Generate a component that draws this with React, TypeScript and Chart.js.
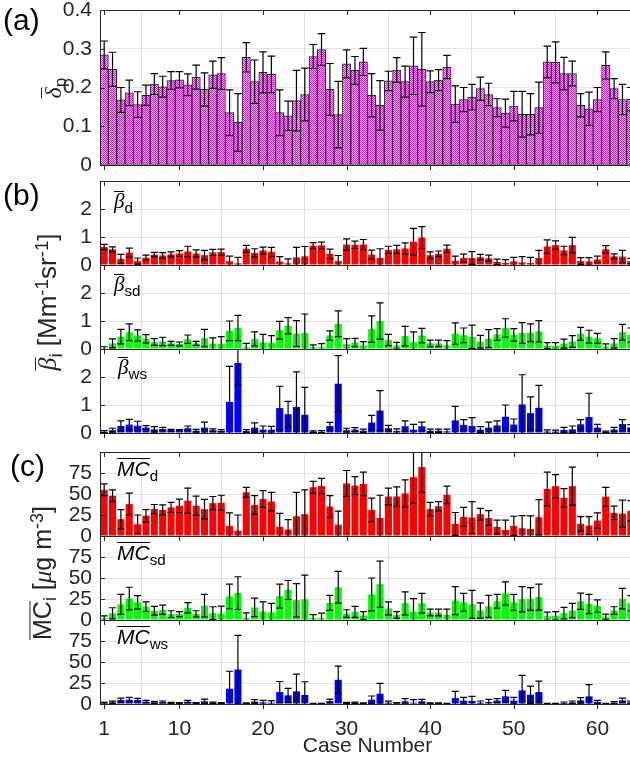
import React, { useEffect, useRef } from "react";
import { Chart, registerables } from "chart.js";
Chart.register(...registerables);

// ---------------- data ----------------
const cases = [
  1, 2, 3, 4, 5, 6, 7, 8, 9, 10, 11, 12, 13, 14, 15, 16, 17, 18, 19, 20, 21, 22, 23, 24, 25, 26, 27, 28, 29, 30, 31, 32,
  33, 34, 35, 36, 37, 38, 39, 40, 41, 42, 43, 44, 45, 46, 47, 48, 49, 50, 51, 52, 53, 54, 55, 56, 57, 58, 59, 60, 61, 62, 63, 64,
];
const xTicks = [1, 10, 20, 30, 40, 50, 60];
const xTickLabels = ["1", "10", "20", "30", "40", "50", "60"];

const dpTicks = [0, 0.1, 0.2, 0.3, 0.4];
const dpTickLabels = ["0", "0.1", "0.2", "0.3", "0.4"];
const betaTicks = [0, 1, 2, 3];
const betaTickLabels = ["0", "1", "2", ""];
const mcTicks = [0, 25, 50, 75, 100];
const mcTickLabels = ["0", "25", "50", "75", ""];

const dpMean = [
  0.284, 0.247, 0.168, 0.186, 0.156, 0.18, 0.209, 0.202, 0.218, 0.22, 0.207, 0.227, 0.195, 0.233, 0.236, 0.135,
  0.11, 0.278, 0.215, 0.239, 0.234, 0.135, 0.127, 0.166, 0.182, 0.28, 0.298, 0.195, 0.13, 0.261, 0.244, 0.266,
  0.18, 0.154, 0.217, 0.245, 0.215, 0.256, 0.247, 0.215, 0.219, 0.253, 0.157, 0.169, 0.175, 0.197, 0.182, 0.148,
  0.134, 0.152, 0.131, 0.131, 0.148, 0.266, 0.265, 0.236, 0.236, 0.154, 0.145, 0.169, 0.257, 0.197, 0.169, 0.17,
];
const dpErr = [
  0.036, 0.044, 0.032, 0.033, 0.033, 0.026, 0.027, 0.027, 0.023, 0.021, 0.028, 0.031, 0.043, 0.035, 0.041, 0.059,
  0.074, 0.038, 0.056, 0.053, 0.047, 0.059, 0.038, 0.078, 0.068, 0.031, 0.041, 0.067, 0.086, 0.036, 0.036, 0.035,
  0.056, 0.064, 0.025, 0.032, 0.04, 0.074, 0.095, 0.028, 0.027, 0.03, 0.047, 0.031, 0.033, 0.03, 0.029, 0.023,
  0.036, 0.038, 0.059, 0.053, 0.066, 0.041, 0.053, 0.042, 0.032, 0.03, 0.043, 0.031, 0.035, 0.026, 0.039, 0.03,
];

const betaDMean = [
  0.64, 0.56, 0.22, 0.44, 0.14, 0.26, 0.37, 0.34, 0.38, 0.41, 0.48, 0.41, 0.35, 0.45, 0.46, 0.13,
  0.06, 0.58, 0.43, 0.52, 0.47, 0.12, 0.06, 0.27, 0.31, 0.69, 0.7, 0.4, 0.14, 0.73, 0.72, 0.73,
  0.37, 0.25, 0.54, 0.56, 0.59, 0.83, 0.98, 0.35, 0.4, 0.58, 0.15, 0.25, 0.25, 0.28, 0.24, 0.11,
  0.07, 0.13, 0.09, 0.07, 0.25, 0.66, 0.71, 0.52, 0.71, 0.14, 0.13, 0.2, 0.56, 0.31, 0.3, 0.14,
];
const betaDErr = [
  0.1, 0.09, 0.16, 0.16, 0.11, 0.09, 0.08, 0.1, 0.09, 0.1, 0.19, 0.13, 0.17, 0.11, 0.11, 0.19,
  0.21, 0.12, 0.15, 0.12, 0.16, 0.18, 0.16, 0.36, 0.35, 0.11, 0.12, 0.17, 0.2, 0.2, 0.13, 0.18,
  0.16, 0.33, 0.13, 0.14, 0.2, 0.48, 0.39, 0.12, 0.1, 0.13, 0.17, 0.14, 0.23, 0.1, 0.11, 0.1,
  0.12, 0.14, 0.21, 0.2, 0.27, 0.24, 0.15, 0.15, 0.28, 0.12, 0.13, 0.12, 0.13, 0.09, 0.22, 0.1,
];

const betaSdMean = [
  0.03, 0.2, 0.44, 0.6, 0.48, 0.36, 0.25, 0.27, 0.2, 0.18, 0.35, 0.2, 0.39, 0.19, 0.18, 0.65,
  0.75, 0.06, 0.36, 0.23, 0.21, 0.67, 0.83, 0.55, 0.57, 0.06, 0.06, 0.48, 0.9, 0.17, 0.23, 0.12,
  0.71, 1.0, 0.32, 0.12, 0.46, 0.24, 0.48, 0.2, 0.2, 0.13, 0.55, 0.49, 0.43, 0.26, 0.37, 0.52,
  0.75, 0.5, 0.57, 0.58, 0.63, 0.12, 0.11, 0.19, 0.27, 0.54, 0.44, 0.38, 0.08, 0.2, 0.6, 0.5,
];
const betaSdErr = [
  0.05, 0.16, 0.26, 0.3, 0.2, 0.15, 0.12, 0.15, 0.07, 0.07, 0.15, 0.07, 0.31, 0.21, 0.26, 0.35,
  0.45, 0.14, 0.25, 0.29, 0.27, 0.32, 0.29, 0.46, 0.68, 0.09, 0.13, 0.17, 0.46, 0.2, 0.15, 0.14,
  0.47, 0.65, 0.2, 0.12, 0.35, 0.37, 0.26, 0.12, 0.12, 0.17, 0.38, 0.26, 0.42, 0.23, 0.32, 0.21,
  0.33, 0.23, 0.37, 0.32, 0.38, 0.11, 0.12, 0.16, 0.21, 0.23, 0.23, 0.18, 0.1, 0.17, 0.28, 0.25,
];

const betaWsMean = [
  0.05, 0.1, 0.25, 0.3, 0.26, 0.19, 0.13, 0.14, 0.1, 0.1, 0.17, 0.08, 0.19, 0.1, 0.08, 1.11,
  2.5, 0.07, 0.19, 0.12, 0.12, 0.89, 0.67, 0.93, 0.65, 0.05, 0.05, 0.25, 1.76, 0.1, 0.12, 0.08,
  0.37, 0.8, 0.17, 0.07, 0.24, 0.12, 0.24, 0.08, 0.08, 0.06, 0.45, 0.29, 0.25, 0.12, 0.19, 0.27,
  0.58, 0.3, 1.02, 0.71, 0.9, 0.05, 0.05, 0.11, 0.13, 0.31, 0.57, 0.19, 0.04, 0.12, 0.32, 0.2,
];
const betaWsErr = [
  0.04, 0.07, 0.18, 0.19, 0.16, 0.07, 0.1, 0.06, 0.03, 0.02, 0.08, 0.05, 0.2, 0.05, 0.04, 1.27,
  0.8, 0.05, 0.17, 0.13, 0.12, 0.78, 0.46, 1.25, 0.98, 0.03, 0.04, 0.13, 1.0, 0.07, 0.07, 0.06,
  0.26, 0.71, 0.1, 0.08, 0.19, 0.19, 0.15, 0.06, 0.06, 0.08, 0.5, 0.19, 0.3, 0.11, 0.2, 0.16,
  0.42, 0.2, 1.06, 0.58, 0.8, 0.06, 0.05, 0.09, 0.12, 0.17, 0.85, 0.12, 0.03, 0.08, 0.16, 0.1,
];

const mcDMean = [
  55, 48, 20, 38, 14, 24, 32, 31, 34, 36, 42, 36, 32, 39, 39.5, 12,
  6.4, 52, 37, 44, 41, 11, 7.6, 23.5, 26, 58, 59.5, 35, 13.5, 62.6, 60, 62,
  31, 21.5, 47, 47, 50.7, 70, 82, 32, 35.5, 49, 14.4, 22.7, 22, 26, 21.5, 10.8,
  7.2, 12, 9.2, 8.4, 22.3, 56, 59.4, 45.5, 59.4, 14.4, 12.4, 18.3, 46.7, 27.5, 26.7, 30,
];
const mcDErr = [
  7, 7, 11.5, 13, 11, 7.5, 5.5, 6, 6, 8, 15, 11.5, 11.5, 8, 9, 15.5,
  18.6, 6, 11, 10, 11, 16, 12, 28.5, 29, 7, 9, 13, 16, 15.4, 10.6, 14,
  14, 27, 10, 11.6, 16, 31, 30, 8, 5.5, 10.4, 13.6, 11.3, 19, 7, 8.8, 8.2,
  11.8, 11.5, 15, 15.6, 21, 20, 13.6, 11, 22.6, 8.6, 10.6, 9.2, 11.3, 8, 16, 12,
];

const mcSdMean = [
  2, 8, 18.6, 25.5, 21, 15.8, 11, 12.2, 7, 7, 14.6, 7.3, 17, 8.1, 7.3, 28,
  32, 2.4, 15, 10, 9, 28.4, 35.7, 23.5, 24.7, 2.4, 2, 20.3, 39, 7.7, 9.7, 5.3,
  30.4, 42.6, 13.8, 6, 19.9, 10, 19.9, 8.9, 8.9, 6.1, 23, 21, 18.6, 11.3, 16.2, 22.3,
  31.6, 21, 24.7, 25, 27.2, 4.5, 4.9, 8.1, 11.3, 22.3, 19, 16.6, 3.6, 11.3, 25.5, 20,
];
const mcSdErr = [
  3, 6.6, 11.8, 13.5, 8, 5.7, 5.2, 5.6, 4, 3, 6.1, 3.7, 13.4, 7.7, 9.3, 14.6,
  19.5, 6.1, 11, 11.5, 10.9, 14.2, 11.3, 19.9, 28.8, 4.1, 6.1, 8.9, 19, 4.5, 6.5, 4.7,
  19.6, 27.4, 7.7, 4, 13.7, 15.5, 11.7, 4.1, 4.1, 6.9, 16.7, 10.6, 16.7, 9, 13, 8.1,
  13.8, 9.4, 15, 13.5, 15.4, 4.8, 5.1, 6.9, 8.6, 9.7, 11.4, 7.4, 3.4, 4.5, 12.2, 9,
];

const mcWsMean = [
  1, 2, 4.7, 5.1, 4.7, 2.8, 2, 2.4, 1.2, 1.2, 2.8, 1.2, 3.2, 1.6, 1.2, 18.2,
  41, 0.8, 2.8, 2, 1.6, 14.2, 10.3, 15, 10.7, 0.4, 0.4, 3.6, 28.8, 1.2, 1.6, 0.8,
  5.1, 12.2, 1.6, 0.8, 3.2, 1.6, 3.2, 0.8, 0.8, 0.4, 7.1, 4, 3.6, 1.6, 2.4, 4,
  9.1, 4, 16.2, 11, 14.2, 0.4, 0.4, 1.2, 2, 4.3, 9.1, 2.4, 0.4, 1.6, 4.3, 2,
];
const mcWsErr = [
  1, 1.5, 2.3, 2.8, 2, 1.5, 1.2, 1.2, 0.8, 0.6, 1.5, 0.6, 2.7, 0.8, 0.6, 20.8,
  40.7, 0.6, 2.3, 2.4, 2.4, 12.6, 8.3, 20.5, 15.8, 0.4, 0.4, 2.3, 16.2, 0.8, 0.8, 0.6,
  4.4, 12.3, 1.9, 0.8, 3.1, 3.5, 2.3, 0.6, 0.6, 0.5, 7.9, 3.9, 5.4, 2, 3.1, 2.3,
  7.1, 3.9, 17.8, 10.3, 13, 0.4, 0.4, 1.2, 1.6, 3.2, 13.9, 1.9, 0.4, 1.2, 2.8, 1.5,
];

// ---------------- styling ----------------
const FONT = "'Liberation Sans', Arial, Helvetica, sans-serif";
const SERIF = "'Liberation Serif', 'DejaVu Serif', serif";
const AXIS_COLOR = "#262626";
const GRID_COLOR = "rgba(38,38,38,0.13)";
const CANVAS_W = 635;
const PAGE_H = 773;
const PAD = 24;

type PanelDef = {
  key: string;
  top: number;
  height: number;
  min: number;
  max: number;
  ticks: number[];
  labels: string[];
  mean: number[];
  err: number[];
  fill: string;
  border: string;
  borderWidth: number;
  barPct: number;
  capHalf: number;
  bottom?: boolean;
};

const panels: PanelDef[] = [
  { key: "dp", top: 10, height: 155, min: 0, max: 0.4, ticks: dpTicks, labels: dpTickLabels, mean: dpMean, err: dpErr, fill: "pattern", border: "#222", borderWidth: 1, barPct: 1.0, capHalf: 0.45 },
  { key: "bd", top: 181, height: 84, min: 0, max: 3, ticks: betaTicks, labels: betaTickLabels, mean: betaDMean, err: betaDErr, fill: "#ff0000", border: "#ff0000", borderWidth: 0, barPct: 0.85, capHalf: 0.42 },
  { key: "bsd", top: 265, height: 84, min: 0, max: 3, ticks: betaTicks, labels: betaTickLabels, mean: betaSdMean, err: betaSdErr, fill: "#00ff00", border: "#00ff00", borderWidth: 0, barPct: 0.85, capHalf: 0.42 },
  { key: "bws", top: 349, height: 84, min: 0, max: 3, ticks: betaTicks, labels: betaTickLabels, mean: betaWsMean, err: betaWsErr, fill: "#0000ff", border: "#0000ff", borderWidth: 0, barPct: 0.85, capHalf: 0.42 },
  { key: "mcd", top: 452, height: 84, min: 0, max: 100, ticks: mcTicks, labels: mcTickLabels, mean: mcDMean, err: mcDErr, fill: "#ff0000", border: "#ff0000", borderWidth: 0, barPct: 0.85, capHalf: 0.42 },
  { key: "mcsd", top: 536, height: 84, min: 0, max: 100, ticks: mcTicks, labels: mcTickLabels, mean: mcSdMean, err: mcSdErr, fill: "#00ff00", border: "#00ff00", borderWidth: 0, barPct: 0.85, capHalf: 0.42 },
  { key: "mcws", top: 620, height: 84, min: 0, max: 100, ticks: mcTicks, labels: mcTickLabels, mean: mcWsMean, err: mcWsErr, fill: "#0000ff", border: "#0000ff", borderWidth: 0, barPct: 0.85, capHalf: 0.42, bottom: true },
];

function makePattern(): CanvasPattern | string {
  const c = document.createElement("canvas");
  c.width = 2;
  c.height = 2;
  const g = c.getContext("2d");
  if (!g) return "#ff55ff";
  g.fillStyle = "#ff00ff";
  g.fillRect(0, 0, 2, 2);
  g.fillStyle = "#ffb8ff";
  g.fillRect(1, 0, 1, 1);
  g.fillRect(0, 1, 1, 1);
  const p = g.createPattern(c, "repeat");
  return p || "#ff55ff";
}

const errorBarPlugin = {
  id: "errbars",
  afterDatasetsDraw(chart: any, _args: any, opts: any) {
    const ctx = chart.ctx;
    const area = chart.chartArea;
    const xs = chart.scales.x;
    const ys = chart.scales.y;
    ctx.save();
    ctx.beginPath();
    ctx.rect(area.left, area.top, area.right - area.left, area.bottom - area.top);
    ctx.clip();
    ctx.strokeStyle = opts.color || "#000";
    ctx.lineWidth = opts.width || 1;
    chart.data.datasets.forEach((ds: any, di: number) => {
      const meta = chart.getDatasetMeta(di);
      const errs: number[] = ds.errors || [];
      meta.data.forEach((el: any, j: number) => {
        const pt = ds.data[j];
        const e = errs[j] || 0;
        const x = el.x;
        const half = (xs.getPixelForValue(pt.x + opts.capHalf) - xs.getPixelForValue(pt.x - opts.capHalf)) / 2;
        const yHi = ys.getPixelForValue(pt.y + e);
        const yLo = ys.getPixelForValue(pt.y - e);
        ctx.beginPath();
        ctx.moveTo(x, yLo);
        ctx.lineTo(x, yHi);
        ctx.moveTo(x - half, yHi);
        ctx.lineTo(x + half, yHi);
        ctx.moveTo(x - half, yLo);
        ctx.lineTo(x + half, yLo);
        ctx.stroke();
      });
    });
    ctx.restore();
  },
};

const framePlugin = {
  id: "frame",
  afterDraw(chart: any) {
    const ctx = chart.ctx;
    const a = chart.chartArea;
    const xs = chart.scales.x;
    const ys = chart.scales.y;
    ctx.save();
    ctx.strokeStyle = AXIS_COLOR;
    ctx.lineWidth = 1;
    ctx.strokeRect(Math.round(a.left) + 0.5, Math.round(a.top) + 0.5, Math.round(a.right - a.left), Math.round(a.bottom - a.top));
    ctx.beginPath();
    xs.ticks.forEach((t: any) => {
      const x = Math.round(xs.getPixelForValue(t.value)) + 0.5;
      ctx.moveTo(x, a.bottom);
      ctx.lineTo(x, a.bottom + 5);
      ctx.moveTo(x, a.top);
      ctx.lineTo(x, a.top + 5);
    });
    ys.ticks.forEach((t: any) => {
      const y = Math.round(ys.getPixelForValue(t.value)) + 0.5;
      ctx.moveTo(a.left, y);
      ctx.lineTo(a.left + 5, y);
    });
    ctx.stroke();
    ctx.restore();
  },
};

function Panel({ def }: { def: PanelDef }) {
  const ref = useRef<HTMLCanvasElement>(null);
  const canvasTop = def.top - PAD;
  const axisH = def.bottom ? PAGE_H - (def.top + def.height) : 0;
  const canvasH = def.bottom ? PAGE_H - canvasTop : def.height + 2 * PAD;

  useEffect(() => {
    if (!ref.current) return;
    const fill = def.fill === "pattern" ? makePattern() : def.fill;
    const chart = new Chart(ref.current, {
      type: "bar",
      data: {
        datasets: [
          {
            data: cases.map((c, i) => ({ x: c, y: def.mean[i] })),
            errors: def.err,
            backgroundColor: fill as any,
            borderColor: def.border,
            borderWidth: def.borderWidth,
            borderSkipped: false,
            barPercentage: def.barPct,
            categoryPercentage: 1,
          } as any,
        ],
      },
      options: {
        responsive: false,
        animation: false,
        devicePixelRatio: 1,
        events: [],
        layout: { padding: { top: PAD, bottom: def.bottom ? 0 : PAD, left: 0, right: 0 } },
        plugins: {
          legend: { display: false },
          tooltip: { enabled: false },
          errbars: { color: "#000", width: 1.2, capHalf: def.capHalf },
        } as any,
        scales: {
          x: {
            type: "linear",
            min: 0.5,
            max: 64.5,
            offset: false,
            afterBuildTicks: (s: any) => {
              s.ticks = xTicks.map((v) => ({ value: v }));
            },
            afterFit: (s: any) => {
              s.height = axisH;
            },
            grid: { color: GRID_COLOR, drawTicks: false, lineWidth: 1 },
            border: { display: false },
            ticks: {
              display: !!def.bottom,
              autoSkip: false,
              maxRotation: 0,
              padding: 13,
              color: AXIS_COLOR,
              font: { family: FONT, size: 21 },
              callback: (_v: any, i: number) => xTickLabels[i],
            },
            title: {
              display: !!def.bottom,
              text: "Case Number",
              color: AXIS_COLOR,
              font: { family: FONT, size: 21 },
              padding: { top: 0, bottom: 14 },
            },
          },
          y: {
            min: def.min,
            max: def.max,
            afterBuildTicks: (s: any) => {
              s.ticks = def.ticks.map((v) => ({ value: v }));
            },
            afterFit: (s: any) => {
              s.width = 100;
            },
            grid: { color: GRID_COLOR, drawTicks: false, lineWidth: 1 },
            border: { display: false },
            ticks: {
              autoSkip: false,
              padding: 8,
              color: AXIS_COLOR,
              font: { family: FONT, size: 21 },
              callback: (_v: any, i: number) => def.labels[i],
            },
          },
        },
      } as any,
      plugins: [errorBarPlugin, framePlugin],
    });
    return () => chart.destroy();
  }, []);

  return (
    <canvas
      ref={ref}
      width={CANVAS_W}
      height={canvasH}
      style={{ position: "absolute", left: 0, top: canvasTop, width: CANVAS_W, height: canvasH }}
    />
  );
}

const txt: React.CSSProperties = { position: "absolute", fontFamily: FONT, color: "#000", whiteSpace: "nowrap", lineHeight: 1 };
const sub: React.CSSProperties = { fontSize: "0.72em", position: "relative", top: "0.3em" };
const sup: React.CSSProperties = { fontSize: "0.72em", position: "relative", top: "-0.45em" };
const ovl: React.CSSProperties = { display: "inline-block", borderTop: "1px solid currentColor", lineHeight: 0.92 };

function Rot({ x, y, size, children }: { x: number; y: number; size: number; children: React.ReactNode }) {
  return (
    <div
      style={{
        ...txt,
        left: x,
        top: y,
        fontSize: size,
        color: AXIS_COLOR,
        transform: "translate(-50%, -50%) rotate(-90deg)",
      }}
    >
      {children}
    </div>
  );
}

function Ann({ x, y, sym, italicSerif, s }: { x: number; y: number; sym: string; italicSerif: boolean; s: string }) {
  return (
    <div style={{ ...txt, left: x, top: y, fontSize: 21 }}>
      <span style={{ ...ovl, fontStyle: "italic", fontFamily: italicSerif ? SERIF : FONT }}>{sym}</span>
      <span style={sub}>{s}</span>
    </div>
  );
}

export default function App() {
  return (
    <div
      style={{
        position: "fixed",
        left: 0,
        top: 0,
        width: 630,
        height: PAGE_H,
        overflow: "hidden",
        background: "#fff",
      }}
    >
      {panels.map((p) => (
        <Panel key={p.key} def={p} />
      ))}

      <div style={{ ...txt, left: 3, top: 5, fontSize: 30 }}>(a)</div>
      <div style={{ ...txt, left: 3, top: 180, fontSize: 30 }}>(b)</div>
      <div style={{ ...txt, left: 10, top: 451, fontSize: 30 }}>(c)</div>

      <Rot x={53} y={88} size={24}>
        <span style={{ ...ovl, fontStyle: "italic", fontFamily: SERIF }}>δ</span>
        <span style={sub}>p</span>
      </Rot>
      <Rot x={47} y={302} size={26}>
        <span style={{ ...ovl, fontStyle: "italic", fontFamily: SERIF }}>β</span>
        <span style={sub}>i</span> [Mm<span style={sup}>-1</span>sr<span style={sup}>-1</span>]
      </Rot>
      <Rot x={42} y={573} size={25}>
        <span style={ovl}>MC</span>
        <span style={sub}>i</span> [<span style={{ fontStyle: "italic", fontFamily: SERIF }}>μ</span>g m
        <span style={sup}>-3</span>]
      </Rot>

      <Ann x={114} y={190} sym="β" italicSerif={true} s="d" />
      <Ann x={114} y={273} sym="β" italicSerif={true} s="sd" />
      <Ann x={118} y={356} sym="β" italicSerif={true} s="ws" />
      <Ann x={117} y={458} sym="MC" italicSerif={false} s="d" />
      <Ann x={117} y={542} sym="MC" italicSerif={false} s="sd" />
      <Ann x={117} y={626} sym="MC" italicSerif={false} s="ws" />
    </div>
  );
}
